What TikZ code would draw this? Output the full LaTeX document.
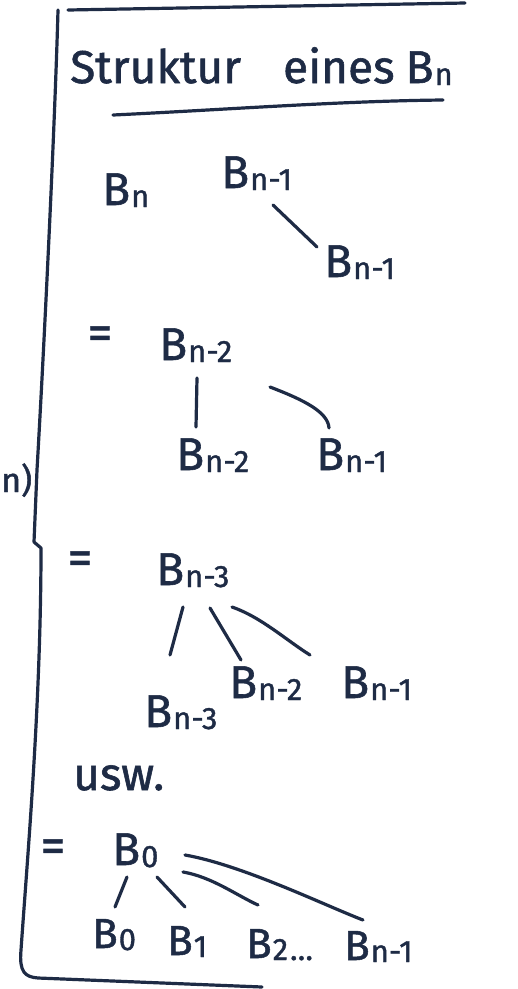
\documentclass[tikz,border=0pt]{standalone}
\usepackage{fontspec}
\setmainfont{Fira Sans}[FakeBold=1.2]
\usetikzlibrary{calc}
\definecolor{ink}{HTML}{1E2B45}
\newcommand\Bx[1]{B\kern1pt\raisebox{-2pt}{\fontsize{31}{31}\selectfont #1}}
\begin{document}
\begin{tikzpicture}[x=1pt,y=-1pt,
  inkline/.style={draw=ink, line width=3.2pt, line cap=round, line join=round},
  lbl/.style={text=ink, inner sep=0pt, anchor=base west, font=\fontsize{46}{46}\selectfont},
  lblsmall/.style={lbl, font=\fontsize{42}{42}\selectfont},
  eqsign/.style={text=ink, inner sep=0pt, anchor=center, font=\fontsize{50}{50}\selectfont}]
\useasboundingbox[fill=white] (0,0) rectangle (518,989);

% frame lines
\coordinate (ftop) at (68,10);
\coordinate (ftopr) at (465,3);
\coordinate (fl0) at (58,10);
\coordinate (fbr) at (262,987);
\draw[inkline] (ftop) -- (ftopr);
\draw[inkline] (fl0) .. controls (55,120) and (45,330) .. (37,470)
  -- (34,542) -- (41,548)
  .. controls (41,700) and (28,850) .. (21,950)
  .. controls (19,972) and (25,977) .. (38,978)
  -- (fbr);

% title
\node[lbl] (title) at (70,83) {Struktur\hspace{42pt}eines\hspace{11pt}\Bx{n}};
\coordinate (ul1) at (113,115);
\coordinate (ul2) at (443,100);
\draw[inkline] (ul1) .. controls (220,110) and (340,101) .. (ul2);

% left text at the edge
\node[lbl, anchor=base west, font=\fontsize{34}{34}\selectfont] (cut) at (1,492) {n)};

% section 1
\node[lbl] (bn) at (102,205) {\Bx{n}};
\node[lbl] (a1) at (221,188) {\Bx{n-1}};
\node[lbl] (a2) at (324,277) {\Bx{n-1}};
\draw[inkline] ($(a1.base west)+(52,17)$) -- ($(a2.base west)+(-7,-30)$);

% section 2
\node[eqsign] (eq1) at (100,338) {=};
\node[lbl] (b0) at (159,360) {\Bx{n-2}};
\node[lbl] (b1) at (176,470) {\Bx{n-2}};
\node[lbl] (b2) at (316,470) {\Bx{n-1}};
\draw[inkline] ($(b0.base west)+(38,18)$) -- ($(b1.base west)+(20,-43)$);
\draw[inkline] ($(b0.base west)+(111,27)$) .. controls ($(b0.base west)+(145,40)$) and ($(b2.base west)+(12,-58)$) .. ($(b2.base west)+(13,-42)$);

% section 3
\node[eqsign] (eq2) at (80,563) {=};
\node[lbl] (c0) at (156,585) {\Bx{n-3}};
\node[lbl] (c1) at (144,727) {\Bx{n-3}};
\node[lbl] (c2) at (229,698) {\Bx{n-2}};
\node[lbl] (c3) at (341,698) {\Bx{n-1}};
\draw[inkline] ($(c0.base west)+(27,22)$) -- ($(c1.base west)+(26,-72)$);
\draw[inkline] ($(c0.base west)+(54,23)$) -- ($(c2.base west)+(12,-38)$);
\draw[inkline] ($(c0.base west)+(76,22)$) .. controls ($(c0.base west)+(105,32)$) and ($(c3.base west)+(-55,-58)$) .. ($(c3.base west)+(-31,-43)$);

% section 4
\node[lbl] (usw) at (73,790) {usw.};
\node[eqsign] (eq3) at (53,851) {=};
\node[lbl] (d0) at (112,865) {\Bx{0}};
\node[lblsmall] (d1) at (92,948) {\Bx{0}};
\node[lblsmall] (d2) at (167,955) {\Bx{1}};
\node[lblsmall] (d3) at (246,958) {\Bx{2}\kern2pt\raisebox{-2pt}{\fontsize{31}{31}\selectfont\dots}};
\node[lblsmall] (d4) at (344,960) {\Bx{n-1}};
\draw[inkline] ($(d0.base west)+(15,12)$) -- ($(d1.base west)+(23,-41)$);
\draw[inkline] ($(d0.base west)+(45,12)$) -- ($(d2.base west)+(18,-48)$);
\draw[inkline] ($(d0.base west)+(71,7)$) .. controls ($(d0.base west)+(100,12)$) and ($(d3.base west)+(-10,-63)$) .. ($(d3.base west)+(12,-53)$);
\draw[inkline] ($(d0.base west)+(73,-10)$) .. controls ($(d0.base west)+(130,0)$) and ($(d4.base west)+(-20,-55)$) .. ($(d4.base west)+(19,-40)$);
\end{tikzpicture}
\end{document}
